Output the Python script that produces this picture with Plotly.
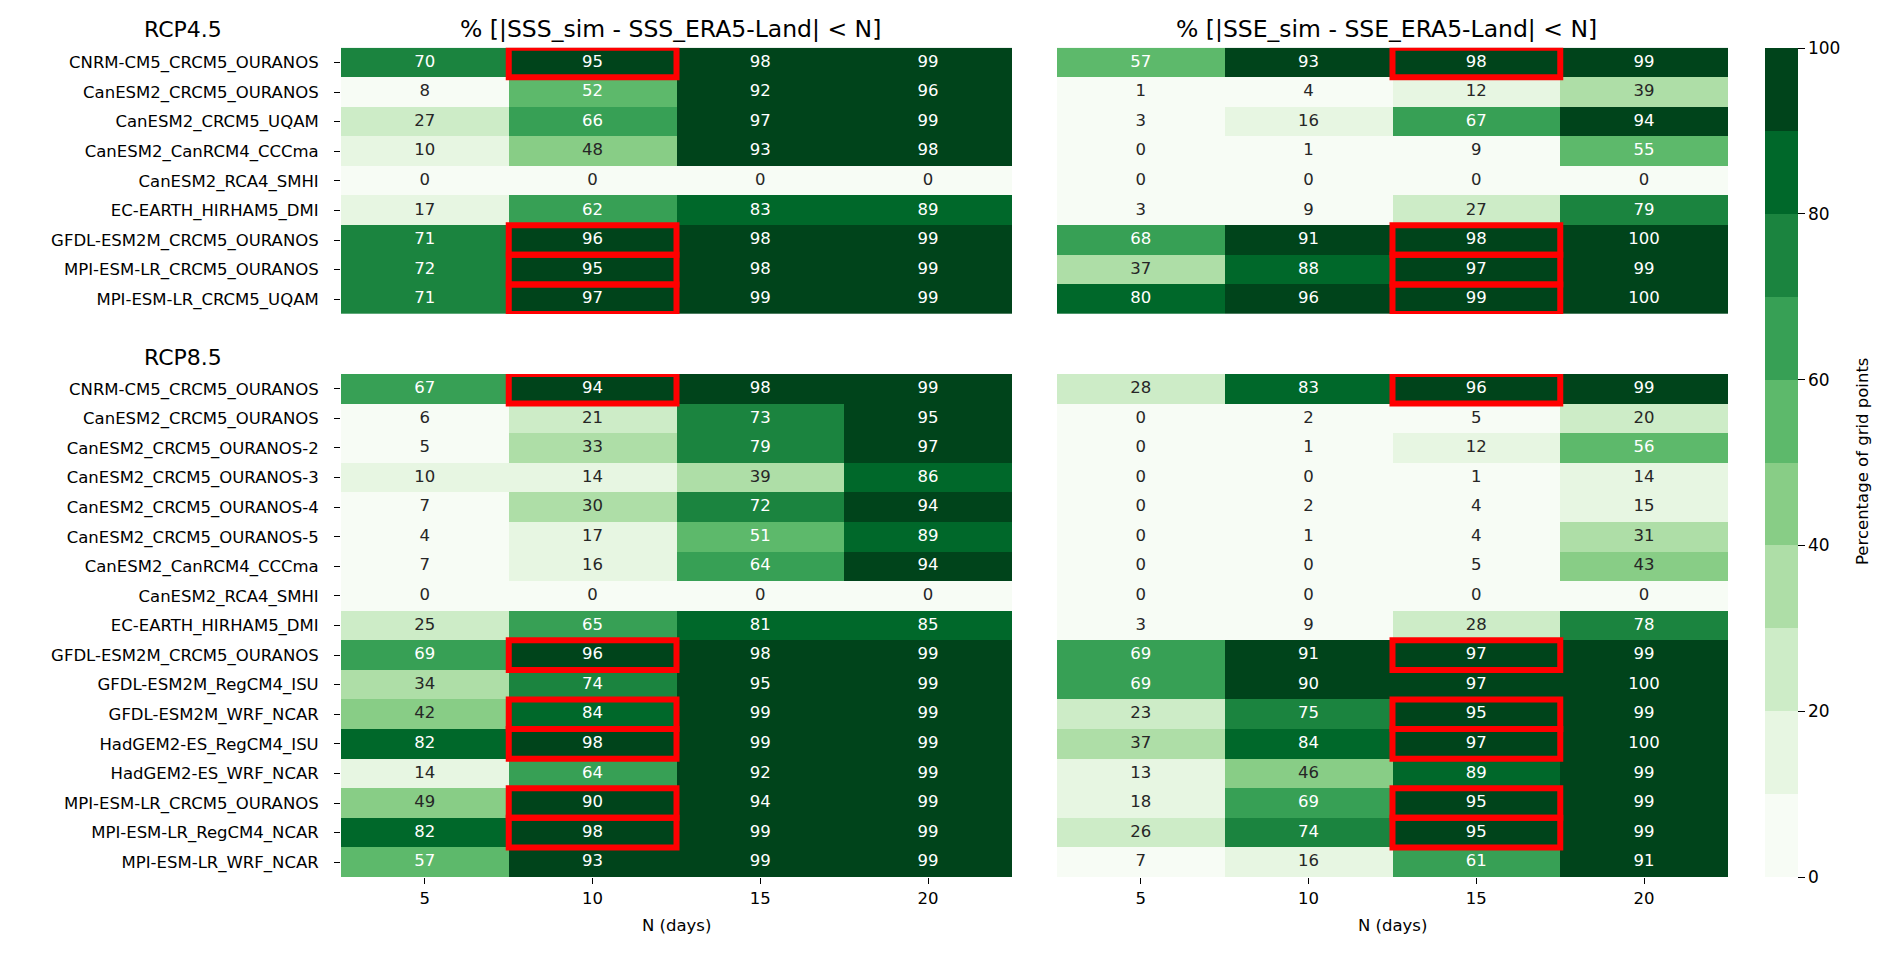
import plotly.graph_objects as go

# ---------------- data ----------------
n_days = ["5", "10", "15", "20"]

models_45 = ["CNRM-CM5_CRCM5_OURANOS", "CanESM2_CRCM5_OURANOS", "CanESM2_CRCM5_UQAM",
             "CanESM2_CanRCM4_CCCma", "CanESM2_RCA4_SMHI", "EC-EARTH_HIRHAM5_DMI",
             "GFDL-ESM2M_CRCM5_OURANOS", "MPI-ESM-LR_CRCM5_OURANOS", "MPI-ESM-LR_CRCM5_UQAM"]

models_85 = ["CNRM-CM5_CRCM5_OURANOS", "CanESM2_CRCM5_OURANOS", "CanESM2_CRCM5_OURANOS-2",
             "CanESM2_CRCM5_OURANOS-3", "CanESM2_CRCM5_OURANOS-4", "CanESM2_CRCM5_OURANOS-5",
             "CanESM2_CanRCM4_CCCma", "CanESM2_RCA4_SMHI", "EC-EARTH_HIRHAM5_DMI",
             "GFDL-ESM2M_CRCM5_OURANOS", "GFDL-ESM2M_RegCM4_ISU", "GFDL-ESM2M_WRF_NCAR",
             "HadGEM2-ES_RegCM4_ISU", "HadGEM2-ES_WRF_NCAR", "MPI-ESM-LR_CRCM5_OURANOS",
             "MPI-ESM-LR_RegCM4_NCAR", "MPI-ESM-LR_WRF_NCAR"]

sss_45 = [[70, 95, 98, 99], [8, 52, 92, 96], [27, 66, 97, 99], [10, 48, 93, 98],
          [0, 0, 0, 0], [17, 62, 83, 89], [71, 96, 98, 99], [72, 95, 98, 99],
          [71, 97, 99, 99]]

sse_45 = [[57, 93, 98, 99], [1, 4, 12, 39], [3, 16, 67, 94], [0, 1, 9, 55],
          [0, 0, 0, 0], [3, 9, 27, 79], [68, 91, 98, 100], [37, 88, 97, 99],
          [80, 96, 99, 100]]

sss_85 = [[67, 94, 98, 99], [6, 21, 73, 95], [5, 33, 79, 97], [10, 14, 39, 86],
          [7, 30, 72, 94], [4, 17, 51, 89], [7, 16, 64, 94], [0, 0, 0, 0],
          [25, 65, 81, 85], [69, 96, 98, 99], [34, 74, 95, 99], [42, 84, 99, 99],
          [82, 98, 99, 99], [14, 64, 92, 99], [49, 90, 94, 99], [82, 98, 99, 99],
          [57, 93, 99, 99]]

sse_85 = [[28, 83, 96, 99], [0, 2, 5, 20], [0, 1, 12, 56], [0, 0, 1, 14],
          [0, 2, 4, 15], [0, 1, 4, 31], [0, 0, 5, 43], [0, 0, 0, 0],
          [3, 9, 28, 78], [69, 91, 97, 99], [69, 90, 97, 100], [23, 75, 95, 99],
          [37, 84, 97, 100], [13, 46, 89, 99], [18, 69, 95, 99], [26, 74, 95, 99],
          [7, 16, 61, 91]]

highlight_45 = ["CNRM-CM5_CRCM5_OURANOS", "GFDL-ESM2M_CRCM5_OURANOS",
                "MPI-ESM-LR_CRCM5_OURANOS", "MPI-ESM-LR_CRCM5_UQAM"]
highlight_85 = ["CNRM-CM5_CRCM5_OURANOS", "GFDL-ESM2M_CRCM5_OURANOS", "GFDL-ESM2M_WRF_NCAR",
                "HadGEM2-ES_RegCM4_ISU", "MPI-ESM-LR_CRCM5_OURANOS", "MPI-ESM-LR_RegCM4_NCAR"]
highlight_col_sss = "10"
highlight_col_sse = "15"

titles = ["% [|SSS_sim - SSS_ERA5-Land| < N]", "% [|SSE_sim - SSE_ERA5-Land| < N]"]
block_titles = ["RCP4.5", "RCP8.5"]
cbar_title = "Percentage of grid points"
cbar_ticks = [0, 20, 40, 60, 80, 100]

# Greens colormap, 10 discrete levels
greens10 = ["#f7fcf5", "#e7f6e2", "#cdecc7", "#aedea7", "#88cd86",
            "#5db96b", "#37a055", "#1b843f", "#00682a", "#00441b"]

# ---------------- style / layout ----------------
W, H = 1892, 954
FONT = "DejaVu Sans"
FS = 16.5

def px_x(p):
    return p / W

def px_y(p):
    return 1 - p / H

x_left = [px_x(341), px_x(1012)]
x_right = [px_x(1057), px_x(1728)]
y_top = [px_y(314), px_y(47.7)]
y_bot = [px_y(877), px_y(374)]

colorscale = []
for k, c in enumerate(greens10):
    lo = 0 if k == 0 else (10 * k - 0.01) / 100
    hi = 1 if k == 9 else (10 * (k + 1) - 0.01) / 100
    colorscale.append([lo, c])
    colorscale.append([hi, c])

fig = go.Figure()

panels = [
    (sss_45, models_45, highlight_45, highlight_col_sss, "x", "y"),
    (sse_45, models_45, highlight_45, highlight_col_sse, "x2", "y2"),
    (sss_85, models_85, highlight_85, highlight_col_sss, "x3", "y3"),
    (sse_85, models_85, highlight_85, highlight_col_sse, "x4", "y4"),
]

shapes = []
for i, (z, rows, hl_rows, hl_col, xa, ya) in enumerate(panels):
    fig.add_trace(go.Heatmap(
        z=z, x=n_days, y=rows, xaxis=xa, yaxis=ya,
        colorscale=colorscale, zmin=0, zmax=100,
        showscale=(i == 0), hoverinfo="skip",
        colorbar=dict(
            x=px_x(1765), xanchor="left", y=px_y(877), yanchor="bottom",
            xpad=0, ypad=0,
            len=(877 - 47.7) / H, lenmode="fraction",
            thickness=33, thicknessmode="pixels", outlinewidth=0,
            ticks="outside", ticklen=7, tickwidth=1.2, tickcolor="#000",
            tickvals=cbar_ticks, tickfont=dict(family=FONT, size=17, color="#000"),
        ),
    ))
    xs, ys, txt, cols = [], [], [], []
    for r, name in enumerate(rows):
        for c, nd in enumerate(n_days):
            v = z[r][c]
            xs.append(nd)
            ys.append(name)
            txt.append(str(v))
            cols.append("#ffffff" if v >= 50 else "#262626")
    fig.add_trace(go.Scatter(
        x=xs, y=ys, mode="text", text=txt, xaxis=xa, yaxis=ya,
        textfont=dict(family=FONT, size=FS, color=cols),
        hoverinfo="skip", showlegend=False,
    ))
    ci = n_days.index(hl_col)
    for name in hl_rows:
        ri = rows.index(name)
        shapes.append(dict(
            type="rect", xref=xa, yref=ya,
            x0=ci - 0.5, x1=ci + 0.5, y0=ri - 0.5, y1=ri + 0.5,
            line=dict(color="#ff0000", width=6), layer="above",
        ))

def xax(domain, anchor, show):
    return dict(domain=domain, anchor=anchor, type="category", range=[-0.5, 3.5],
                showgrid=False, zeroline=False, showline=False,
                ticks="outside" if show else "", ticklen=6, tickwidth=1.2, tickcolor="#000",
                showticklabels=show, tickfont=dict(family=FONT, size=FS, color="#000"))

def yax(domain, anchor, n, show):
    return dict(domain=domain, anchor=anchor, type="category", range=[n - 0.5, -0.5],
                showgrid=False, zeroline=False, showline=False,
                ticks="outside" if show else "", ticklen=6, tickwidth=1.2, tickcolor="#000",
                showticklabels=show, ticklabelstandoff=12,
                tickfont=dict(family=FONT, size=FS, color="#000"))

annotations = []
for t, dom in zip(titles, [x_left, x_right]):
    annotations.append(dict(text=t, xref="paper", yref="paper", x=(dom[0] + dom[1]) / 2 - 6 / W,
                            y=px_y(29), xanchor="center", yanchor="middle", showarrow=False,
                            font=dict(family=FONT, size=23.5, color="#000")))
    annotations.append(dict(text="N (days)", xref="paper", yref="paper", x=(dom[0] + dom[1]) / 2,
                            y=px_y(925), xanchor="center", yanchor="middle", showarrow=False,
                            font=dict(family=FONT, size=FS, color="#000")))
for t, ypx in zip(block_titles, [30, 357]):
    annotations.append(dict(text=t, xref="paper", yref="paper", x=px_x(183),
                            y=px_y(ypx), xanchor="center", yanchor="middle", showarrow=False,
                            font=dict(family=FONT, size=22, color="#000")))
annotations.append(dict(text=cbar_title, xref="paper", yref="paper", x=px_x(1862),
                        y=px_y(462), xanchor="center", yanchor="middle", showarrow=False,
                        textangle=-90, font=dict(family=FONT, size=FS, color="#000")))

fig.update_layout(
    width=W, height=H,
    margin=dict(l=0, r=0, t=0, b=0),
    paper_bgcolor="white", plot_bgcolor="white",
    font=dict(family=FONT, size=FS, color="#000"),
    showlegend=False,
    xaxis=xax(x_left, "y", False),
    yaxis=yax(y_top, "x", len(models_45), True),
    xaxis2=xax(x_right, "y2", False),
    yaxis2=yax(y_top, "x2", len(models_45), False),
    xaxis3=xax(x_left, "y3", True),
    yaxis3=yax(y_bot, "x3", len(models_85), True),
    xaxis4=xax(x_right, "y4", True),
    yaxis4=yax(y_bot, "x4", len(models_85), False),
    shapes=shapes,
    annotations=annotations,
)

fig.write_html("out.html",
               config={"displayModeBar": False},
               post_script="document.body.style.margin='0';document.body.style.overflow='hidden';")
